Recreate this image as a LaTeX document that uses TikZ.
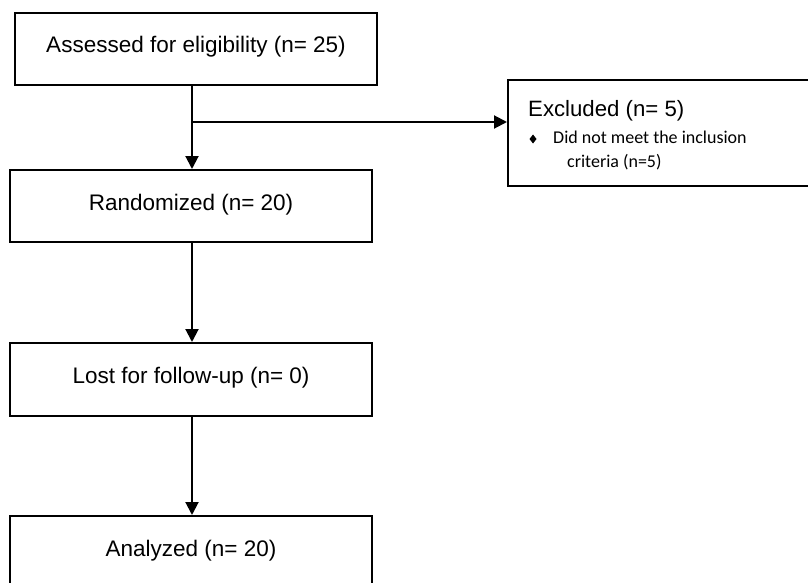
\documentclass[tikz,border=0pt]{standalone}
\usepackage{fontspec}
\setmainfont{Liberation Sans}
\newfontfamily\calib{Carlito}
\usetikzlibrary{arrows.meta}
\begin{document}
\begin{tikzpicture}[x=1pt,y=-1pt,
  flowbox/.style={draw=black, line width=2pt, fill=white, minimum width=362pt,
    minimum height=72pt, inner sep=0pt, text height=16pt, text depth=8pt,
    font=\fontsize{22.5}{27}\selectfont},
  arr/.style={line width=2pt, -{Triangle[width=13pt,length=13pt]}},
  plain/.style={line width=2pt}]
\useasboundingbox (0,0) rectangle (808,583);
\fill[white] (0,0) rectangle (808,583);

\node[flowbox] (b1) at (196,49) {Assessed for eligibility (n= 25)};
\node[flowbox] (b2) at (191,206) {Randomized (n= 20)};
\node[flowbox, minimum height=73pt] (b3) at (191,379.5) {Lost for follow-up (n= 0)};
\node[flowbox] (b4) at (191,552) {Analyzed (n= 20)};

\node[draw=black, line width=2pt, minimum width=320pt, minimum height=106pt, inner sep=0pt] (ex) at (668,133) {};
\node[anchor=base west, inner sep=0pt, font=\fontsize{22.2}{26}\selectfont] (exT) at (528,117) {Excluded (n= 5)};
\fill (533,134.5) -- (536.5,139) -- (533,143.5) -- (529.5,139) -- cycle;
\node[anchor=base west, inner sep=0pt, font=\calib\fontsize{18}{22}\selectfont] (exL1) at (553,143) {Did not meet the inclusion};
\node[anchor=base west, inner sep=0pt, font=\calib\fontsize{18}{22}\selectfont] (exL2) at (567,167) {criteria (n=5)};

\coordinate (j) at (192,122);
\draw[plain] (b1.south -| j) -- (j);
\draw[arr] (j) -- (j |- b2.north);
\draw[arr] (j) -- (j -| ex.west);
\draw[arr] (b2.south -| j) -- (j |- b3.north);
\draw[arr] (b3.south -| j) -- (j |- b4.north);
\end{tikzpicture}
\end{document}
